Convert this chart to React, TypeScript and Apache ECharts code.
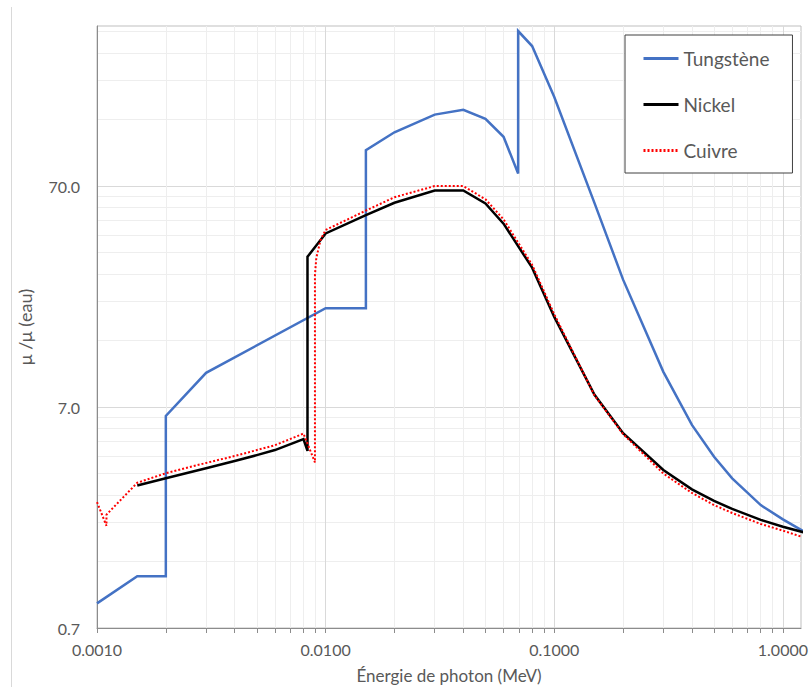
import { useEffect, useRef } from 'react';
import * as echarts from 'echarts';

// Photon energy (MeV) and attenuation ratio relative to water, per material
const tungstenEnergy = [0.001, 0.0015, 0.002, 0.002, 0.003, 0.01, 0.015, 0.015, 0.02, 0.03, 0.04, 0.05, 0.06, 0.0695, 0.0695, 0.08, 0.1, 0.15, 0.2, 0.3, 0.4, 0.5, 0.6, 0.8, 1.0, 1.25];
const tungstenRatio = [0.905, 1.2, 1.2, 6.38, 10.0, 19.6, 19.6, 101.6, 122.6, 147.4, 155, 140.9, 117, 79.8, 352, 301, 177, 58.6, 26.4, 10.1, 5.81, 4.17, 3.33, 2.52, 2.17, 1.9];

const nickelEnergy = [0.0015, 0.002, 0.003, 0.004, 0.005, 0.006, 0.008, 0.00833, 0.00833, 0.01, 0.015, 0.02, 0.03, 0.04, 0.05, 0.06, 0.08, 0.1, 0.15, 0.2, 0.3, 0.4, 0.5, 0.6, 0.8, 1.0, 1.25];
const nickelRatio = [3.09, 3.33, 3.7, 3.99, 4.24, 4.47, 5.01, 4.43, 33.5, 42.7, 51.7, 58.8, 66.8, 66.8, 58.4, 47.3, 29.9, 17.9, 7.95, 5.33, 3.63, 2.97, 2.63, 2.42, 2.16, 2.01, 1.89];

const copperEnergy = [0.001, 0.0011, 0.0011, 0.0015, 0.002, 0.003, 0.004, 0.005, 0.006, 0.008, 0.00898, 0.00898, 0.0091, 0.0095, 0.01, 0.015, 0.02, 0.03, 0.04, 0.05, 0.06, 0.08, 0.1, 0.15, 0.2, 0.3, 0.4, 0.5, 0.6, 0.8, 1.0, 1.25];
const copperRatio = [2.6, 2.03, 2.28, 3.18, 3.51, 3.91, 4.2, 4.47, 4.7, 5.31, 3.93, 27.7, 33.0, 39.9, 44.3, 54.2, 62.3, 70.0, 70.0, 61.0, 49.5, 30.8, 18.4, 7.9, 5.28, 3.5, 2.86, 2.52, 2.32, 2.07, 1.93, 1.79];

const seriesNames = ['Tungstène', 'Nickel', 'Cuivre'];

// Axis tick positions
const xMajorTicks = [0.001, 0.01, 0.1, 1];
const xMinorTicks = [
  0.002, 0.003, 0.004, 0.005, 0.006, 0.007, 0.008, 0.009,
  0.02, 0.03, 0.04, 0.05, 0.06, 0.07, 0.08, 0.09,
  0.2, 0.3, 0.4, 0.5, 0.6, 0.7, 0.8, 0.9,
];
const yMajorTicks = [0.7, 7, 70];
const yMinorTicks = [
  1.4, 2.1, 2.8, 3.5, 4.2, 4.9, 5.6, 6.3,
  14, 21, 28, 35, 42, 49, 56, 63,
  140, 210, 280, 350,
];

const X_MIN = 0.001;
const X_MAX = 1.2;
const Y_MIN = 0.7;
const Y_MAX = 371;

const FONT = 'Lato, "Liberation Sans", sans-serif';
const TEXT = '#595959';

const pairs = (xs: number[], ys: number[]) => xs.map((x, i) => [x, ys[i]]);

export default function App() {
  const ref = useRef<HTMLDivElement>(null);

  useEffect(() => {
    if (!ref.current) return;
    const chart = echarts.init(ref.current, null, { renderer: 'svg' });

    const baseX = {
      type: 'log' as const,
      logBase: 10,
      min: X_MIN,
      max: X_MAX,
      position: 'bottom' as const,
    };
    const baseY = {
      type: 'log' as const,
      logBase: 10,
      min: Y_MIN,
      max: Y_MAX,
      position: 'left' as const,
    };

    chart.setOption({
      animation: false,
      backgroundColor: '#ffffff',
      textStyle: { fontFamily: FONT },
      grid: {
        left: 97,
        top: 26,
        right: 8,
        bottom: 59,
        show: true,
        borderColor: '#bfbfbf',
        borderWidth: 1,
        backgroundColor: 'transparent',
        outerBoundsMode: 'none',
      },
      legend: {
        orient: 'vertical',
        left: 625,
        top: 35,
        data: seriesNames,
        itemWidth: 35,
        itemHeight: 14,
        itemGap: 27,
        padding: [14, 23, 13, 17],
        borderColor: '#404040',
        borderWidth: 1,
        backgroundColor: '#ffffff',
        itemStyle: { opacity: 0 },
        lineStyle: { width: 3 },
        textStyle: { fontSize: 19, color: TEXT, fontFamily: FONT },
      },
      xAxis: [
        {
          ...baseX,
          name: 'Énergie de photon (MeV)',
          nameLocation: 'middle',
          nameGap: 39,
          nameTextStyle: { fontSize: 17, color: TEXT, fontFamily: FONT },
          axisLine: { show: true, lineStyle: { color: '#8c8c8c', width: 1 } },
          axisTick: { show: true, length: 5, lineStyle: { color: '#8c8c8c' }, customValues: xMajorTicks },
          axisLabel: {
            customValues: xMajorTicks,
            margin: 13,
            fontSize: 16,
            color: TEXT,
            fontFamily: FONT,
            formatter: (v: number) => v.toFixed(4),
          },
          splitLine: { show: true, lineStyle: { color: '#d9d9d9', width: 1 } },
        },
        {
          ...baseX,
          axisLine: { show: false },
          axisTick: { show: true, length: 5, lineStyle: { color: '#8c8c8c' }, customValues: xMinorTicks },
          axisLabel: { show: false, customValues: xMinorTicks },
          splitLine: { show: true, lineStyle: { color: '#eeeeee', width: 1 } },
        },
      ],
      yAxis: [
        {
          ...baseY,
          name: 'μ /μ (eau)',
          nameLocation: 'middle',
          nameGap: 63,
          nameTextStyle: { fontSize: 18, color: TEXT, fontFamily: FONT },
          axisLine: { show: true, lineStyle: { color: '#8c8c8c', width: 1 } },
          axisTick: { show: false, customValues: yMajorTicks },
          axisLabel: {
            customValues: yMajorTicks,
            margin: 17,
            fontSize: 16,
            color: TEXT,
            fontFamily: FONT,
            formatter: (v: number) => v.toFixed(1),
          },
          splitLine: { show: true, lineStyle: { color: '#d9d9d9', width: 1 } },
        },
        {
          ...baseY,
          axisLine: { show: false },
          axisTick: { show: false, customValues: yMinorTicks },
          axisLabel: { show: false, customValues: yMinorTicks },
          splitLine: { show: true, lineStyle: { color: '#eeeeee', width: 1 } },
        },
      ],
      graphic: [
        {
          type: 'line',
          shape: { x1: 11.5, y1: 7, x2: 11.5, y2: 687 },
          style: { stroke: '#d9d9d9', lineWidth: 1 },
          silent: true,
        },
      ],
      series: [
        {
          name: seriesNames[0],
          type: 'line',
          data: pairs(tungstenEnergy, tungstenRatio),
          symbol: 'none',
          clip: true,
          lineStyle: { color: '#4472c4', width: 2.5, join: 'miter' },
          itemStyle: { color: '#4472c4' },
          z: 3,
        },
        {
          name: seriesNames[1],
          type: 'line',
          data: pairs(nickelEnergy, nickelRatio),
          symbol: 'none',
          clip: true,
          lineStyle: { color: '#000000', width: 2.5, join: 'miter' },
          itemStyle: { color: '#000000' },
          z: 4,
        },
        {
          name: seriesNames[2],
          type: 'line',
          data: pairs(copperEnergy, copperRatio),
          symbol: 'none',
          clip: true,
          lineStyle: { color: '#ff0000', width: 2, type: [2, 2] },
          itemStyle: { color: '#ff0000' },
          z: 5,
        },
      ],
    });

    return () => chart.dispose();
  }, []);

  return (
    <div
      ref={ref}
      style={{ position: 'fixed', left: 0, top: 0, width: 809, height: 687 }}
    />
  );
}
